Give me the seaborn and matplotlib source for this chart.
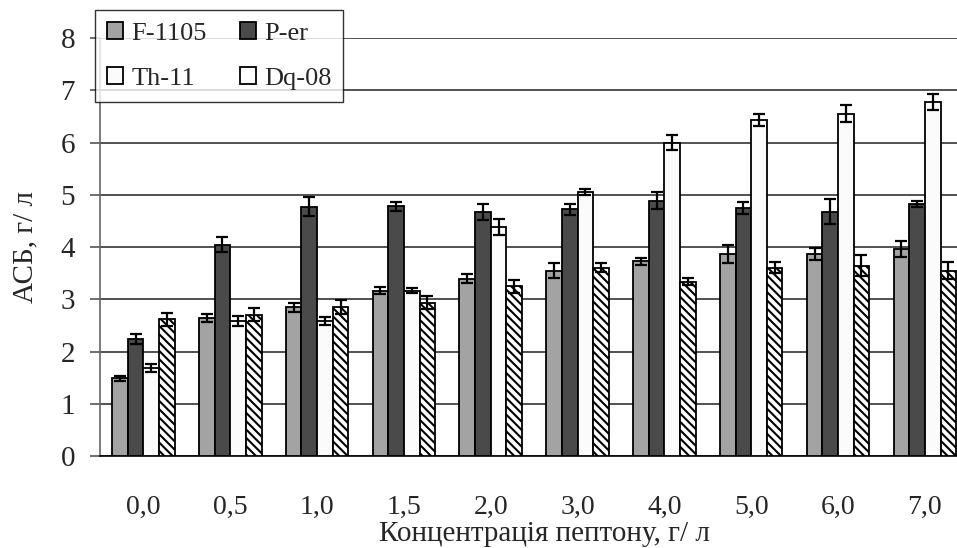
import matplotlib
matplotlib.use("Agg")
import matplotlib.pyplot as plt
import seaborn as sns
import pandas as pd
import numpy as np

# Peptone concentration (g/l) and strain series
concentrations = ["0,0", "0,5", "1,0", "1,5", "2,0", "3,0", "4,0", "5,0", "6,0", "7,0"]
strains = ["F-1105", "P-er", "Th-11", "Dq-08"]

f1105 = [1.49, 2.65, 2.85, 3.17, 3.40, 3.55, 3.73, 3.87, 3.87, 3.96]
p_er = [2.24, 4.05, 4.77, 4.78, 4.67, 4.72, 4.89, 4.75, 4.68, 4.82]
th11 = [1.69, 2.59, 2.59, 3.17, 4.39, 5.06, 6.00, 6.43, 6.55, 6.78]
dq08 = [2.62, 2.71, 2.85, 2.94, 3.25, 3.61, 3.34, 3.61, 3.64, 3.55]

f1105_err = [0.05, 0.08, 0.09, 0.06, 0.09, 0.14, 0.07, 0.18, 0.12, 0.15]
p_er_err = [0.10, 0.15, 0.18, 0.08, 0.15, 0.10, 0.17, 0.11, 0.24, 0.06]
th11_err = [0.07, 0.10, 0.07, 0.05, 0.15, 0.06, 0.14, 0.11, 0.16, 0.15]
dq08_err = [0.12, 0.12, 0.13, 0.12, 0.13, 0.09, 0.07, 0.11, 0.20, 0.16]

values = [f1105, p_er, th11, dq08]
errors = [f1105_err, p_er_err, th11_err, dq08_err]

rows = []
for s, vals, errs in zip(strains, values, errors):
    for c, v, e in zip(concentrations, vals, errs):
        rows.append({"conc": c, "strain": s, "value": v, "err": e})
df = pd.DataFrame(rows)

sns.set_theme(style="white")
plt.rcParams["font.family"] = ["Liberation Serif", "DejaVu Serif"]
plt.rcParams["hatch.color"] = "#444444"
plt.rcParams["hatch.linewidth"] = 1.5

fills = {"F-1105": "#a3a3a3", "P-er": "#4a4a4a", "Th-11": "#fbfbfb", "Dq-08": "#ffffff"}

fig = plt.figure(figsize=(9.57, 5.48), dpi=100)
ax = fig.add_axes([0.1045, 0.1673, 0.8955, 0.7635])

sns.barplot(data=df, x="conc", y="value", hue="strain", order=concentrations,
            hue_order=strains, palette=fills, errorbar=None, width=0.72,
            edgecolor="black", linewidth=1.3, saturation=1, ax=ax, zorder=3)

# hatch the Dq-08 bars and add error bars at each bar centre
for container, s in zip(ax.containers, strains):
    sub = df[df["strain"] == s].set_index("conc").loc[concentrations]
    xs, ys = [], []
    for bar, v in zip(container, sub["value"]):
        if s == "Dq-08":
            bar.set_hatch("\\\\\\\\")
        xs.append(bar.get_x() + bar.get_width() / 2)
        ys.append(bar.get_height())
    ax.errorbar(xs, ys, yerr=sub["err"].values, fmt="none", ecolor="black",
                elinewidth=1.6, capsize=4.5, capthick=1.6, zorder=4)

ax.set_ylim(0, 8)
ax.set_xlim(-0.5, 9.37)
ax.set_yticks(range(0, 9))
ax.yaxis.grid(True, color="#333333", linewidth=1.2, zorder=0)
ax.set_axisbelow(True)

ax.set_xticks(np.arange(-0.5, 9.0, 1.0), minor=True)
ax.tick_params(axis="x", which="major", length=0, pad=27.5, labelsize=20)
ax.tick_params(axis="x", which="minor", length=8, width=1.2, color="#555555", direction="out")
ax.tick_params(axis="y", length=7, width=1.2, color="#555555", direction="out",
               labelsize=21, pad=11, left=True)

for side in ["top", "right"]:
    ax.spines[side].set_visible(False)
ax.spines["left"].set_color("#666666")
ax.spines["left"].set_linewidth(1.2)
ax.spines["bottom"].set_color("black")
ax.spines["bottom"].set_linewidth(1.2)

ax.set_xlabel("Концентрація пептону, г/ л", fontsize=21)
ax.xaxis.label.set_va("baseline")
ax.xaxis.set_label_coords(0.519, -0.2024)
ax.set_ylabel("АСБ, г/ л", fontsize=21)
ax.yaxis.set_label_coords(-0.072, 0.5)

# legend in row-major order: F-1105, P-er / Th-11, Dq-08
handles, labels = ax.get_legend_handles_labels()
if ax.legend_:
    ax.legend_.remove()
order = [0, 2, 1, 3]
leg = fig.legend([handles[i] for i in order], [labels[i] for i in order], ncol=2,
                 loc="upper left", bbox_to_anchor=(0.0993, 0.9818), borderaxespad=0,
                 frameon=True, fancybox=False, edgecolor="black", fontsize=19,
                 handlelength=0.62, handleheight=0.62, handletextpad=0.3,
                 columnspacing=1.25, labelspacing=0.85, borderpad=0.45)
leg.get_frame().set_linewidth(1.0)
leg.set_zorder(10)

fig.savefig("out.png", dpi=100)
